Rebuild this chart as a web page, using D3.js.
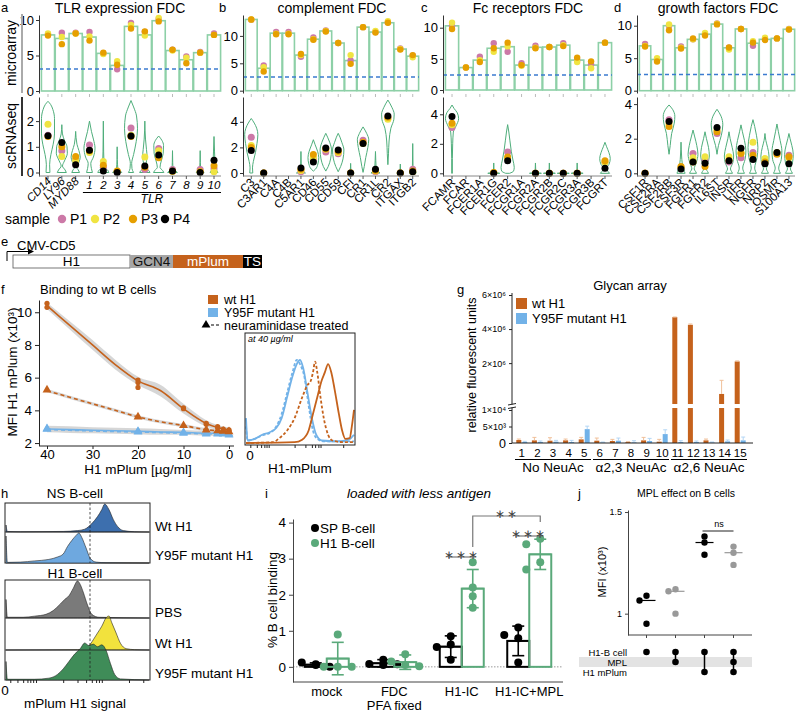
<!DOCTYPE html>
<html><head><meta charset="utf-8">
<script src="https://cdn.jsdelivr.net/npm/d3@7/dist/d3.min.js"></script>
<style>html,body{margin:0;padding:0;background:#fff;}</style>
</head><body>
<svg id="fig" width="797" height="713" xmlns="http://www.w3.org/2000/svg"></svg>
<script>
// ======================= DATA =======================
const samples = ["P1","P2","P3","P4"];

// ---- panel a : TLR expression FDC
const genesA = ["CD14","LY96","MYD88","1","2","3","4","5","6","7","8","9","10"];
const microA = [7.9,7.4,8.1,7.6,5.3,3.6,9.1,7.9,9.9,5.7,4.4,5.4,7.9];
const microPtsA = [[8.0,8.1,7.8],[8.2,7.6,6.6],[8.2,8.1,8.1],[8.3,7.7,7.1],[5.3,5.2,5.4],[3.05,4.2,3.7],[9.6,9.3,8.8],[8.3,7.8,8.4],[10.1,10.3,9.8],[5.8,5.7,5.8],[4.85,4.7,3.9],[5.5,5.4,5.4],[8.1,7.9,7.9]];
const scPtsA = [[1.45,1.88,1.4,1.43],[0.85,0.62,1.0,1.17],[0.5,0.47,0.62,0.3],[1.07,0.78,0.85,0.87],[0.2,0.43,0.28,0.06],[0.03,0.05,0.06,0.0],[1.73,1.45,1.4,1.42],[0.12,0.6,0.2,0.25],[0.93,0.85,0.57,0.68],[0.12,0.05,0.05,0.06],null,[0.12,0.03,0.03,0.0],[0.15,0.03,0.26,0.48]];
const violinA = [
 [[0,0.3],[0.3,0.25],[0.7,0.45],[1.1,0.8],[1.5,1],[2.1,1],[2.45,0.75],[2.65,0.4],[2.77,0]],
 [[0,0.7],[0.1,0.5],[0.25,0.1],[0.45,0.4],[0.75,0.85],[1.0,0.8],[1.25,0.4],[1.5,0.1],[1.86,0]],
 [[0,0.6],[0.1,0.4],[0.22,0.1],[0.4,0.5],[0.6,0.7],[0.85,0.5],[1.1,0.2],[1.6,0]],
 [[0,0.45],[0.15,0.3],[0.35,0.2],[0.6,0.6],[0.95,0.85],[1.3,0.6],[1.6,0.3],[2.0,0]],
 [[0,0.85],[0.08,0.7],[0.2,0.25],[0.4,0.1],[0.8,0.05],[2.0,0]],
 [[0,0.7],[0.06,0.5],[0.15,0.1],[0.5,0.03],[1.0,0]],
 [[0,0.4],[0.15,0.15],[0.35,0.1],[0.7,0.4],[1.2,0.8],[1.7,1],[2.2,0.85],[2.55,0.4],[2.8,0]],
 [[0,0.8],[0.08,0.6],[0.18,0.2],[0.35,0.2],[0.6,0.35],[0.9,0.25],[1.3,0.1],[2.0,0]],
 [[0,0.8],[0.08,0.6],[0.2,0.2],[0.45,0.4],[0.75,0.7],[1.05,0.75],[1.25,0.5],[1.42,0]],
 [[0,0.75],[0.06,0.5],[0.15,0.1],[0.4,0.03],[0.85,0]],
 null,
 [[0,0.6],[0.06,0.4],[0.15,0.08],[0.4,0.03],[0.85,0]],
 [[0,0.6],[0.06,0.45],[0.15,0.25],[0.4,0.15],[0.8,0.08],[1.4,0]]
];
const thrA = 3.1;

// ---- panel b : complement FDC
const genesB = ["C3","C3AR1","C4A","C4B","C5AR1","CD46","CD55","CD59","CFI","CR1","CR1L","CR2","ITGAX","ITGB2"];
const microB = [13.0,4.1,10.5,10.5,6.5,9.4,10.9,8.7,5.5,11.6,10.7,12.4,7.6,6.3];
const microPtsB = [[12.95,13.0,13.0],[4.6,4.3,3.5],[10.7,10.4,10.3],[10.7,10.4,10.3],[6.2,6.5,6.7],[9.7,9.4,9.3],[11.0,10.9,10.8],[8.7,8.7,8.7],[5.5,6.5,4.9],[11.6,11.6,11.6],[10.7,10.9,10.6],[12.5,12.7,12.4],[7.7,7.6,7.5],[6.4,6.1,6.5]];
const scPtsB = [[2.8,2.15,2.0,1.75],[0,0,0,0],null,null,[0.1,0.2,0.3,0.4],[1.05,1.2,1.45,0.85],[1.65,1.85,1.9,1.95],[1.5,1.6,1.7,1.8],[0,0,0,0],[2.55,2.3,2.4,2.3],[0.1,0.15,0.2,0.3],[4.3,4.2,4.35,4.45],[0,0,0,0],[0.3,0.1,0.15,0.1]];
const violinB = [
 [[0,0.25],[0.4,0.2],[0.9,0.35],[1.6,0.7],[2.3,0.95],[3.0,1.1],[3.5,0.9],[3.9,0.5],[4.26,0]],
 null, null, null,
 [[0,0.75],[0.07,0.55],[0.18,0.1],[0.5,0.05],[1.68,0]],
 [[0.15,0],[0.3,0.35],[0.7,0.75],[1.2,0.9],[1.7,0.7],[2.2,0.3],[2.6,0]],
 [[0.15,0],[0.5,0.4],[1.1,0.8],[1.8,0.95],[2.4,0.65],[2.8,0.3],[3.1,0]],
 [[0.1,0],[0.5,0.4],[1.1,0.8],[1.8,0.95],[2.4,0.6],[2.8,0.3],[3.1,0]],
 [[0,0.6],[0.06,0.4],[0.15,0.05],[0.75,0]],
 [[0.05,0],[0.5,0.2],[1.2,0.45],[2.0,0.8],[2.6,0.95],[3.1,0.6],[3.6,0]],
 [[0,0.75],[0.07,0.55],[0.18,0.15],[0.5,0.1],[1.0,0.05],[1.68,0]],
 [[0.65,0],[1.5,0.1],[2.5,0.2],[3.5,0.5],[4.2,1.0],[4.6,1.05],[5.1,0.7],[5.7,0]],
 [[0,0.6],[0.06,0.4],[0.15,0.05],[0.7,0]],
 [[0,0.6],[0.08,0.45],[0.2,0.1],[0.6,0.05],[2.3,0]]
];
const thrB = 2.5;

// ---- panel c : Fc receptors FDC
const genesC = ["FCAMR","FCAR","FCER1A","FCER1G","FCER2","FCGR1A","FCGR2A","FCGR2B","FCGR2C","FCGR3A","FCGR3B","FCGRT"];
const microC = [10.3,3.6,4.8,6.7,6.95,4.0,6.85,6.9,7.2,4.8,4.0,7.6];
const microPtsC = [[10.3,10.8,9.8],[3.6,3.6,3.6],[5.35,4.8,4.5],[7.5,6.15,6.7],[6.15,7.0,7.6],[4.3,3.9,4.0],[7.1,6.8,6.7],[6.9,6.9,6.9],[7.5,7.2,7.05],[4.8,4.5,5.2],[4.1,3.5,4.6],[7.6,7.6,7.6]];
const scPtsC = [[3.1,3.3,3.4,3.85],null,null,[0.03,0.05,0.05,0],[1.45,1.0,1.1,0.85],null,[0,0,0,0],[0,0,0,0],[0,0,0,0],[0,0,0,0],null,[0.75,0.75,0.85,0.35]];
const violinC = [
 [[0,0.05],[1.0,0.05],[2.0,0.1],[2.8,0.2],[3.2,0.6],[3.7,1.0],[4.1,0.8],[4.4,0.3],[4.63,0]],
 null, null,
 [[0,0.9],[0.04,0.4],[0.1,0.05],[0.7,0]],
 [[0,0.3],[0.15,0.9],[0.4,1.0],[0.9,0.8],[1.5,0.55],[2.2,0.35],[2.8,0.18],[3.3,0]],
 null,
 [[0,0.9],[0.04,0.4],[0.1,0.05],[0.7,0]],
 [[0,0.9],[0.04,0.4],[0.1,0.05],[0.7,0]],
 [[0,0.9],[0.01,0]],
 [[0,0.9],[0.04,0.4],[0.1,0.05],[0.7,0]],
 null,
 [[0,0.7],[0.1,0.5],[0.3,0.2],[0.6,0.6],[1.0,0.8],[1.4,0.6],[1.8,0.25],[2.1,0]]
];
const thrC = 2.4;

// ---- panel d : growth factors FDC
const genesD = ["CSF1R","CSF2RA","CSF2RB","CSF3R","FGFR1","FGFR2","IL6ST","INSR","LIFR","NGFR","NRP2","OSMR","S100A13"];
const microD = [6.9,4.8,10.0,6.6,7.9,8.7,10.25,6.6,9.5,7.3,7.9,8.05,9.45];
const microPtsD = [[7.2,6.9,6.8],[4.8,5.0,4.5],[10.0,10.2,9.3],[6.8,6.6,6.5],[7.9,7.9,8.05],[8.7,8.9,8.5],[10.35,10.3,10.2],[6.6,6.35,6.65],[9.5,9.5,9.5],[6.9,7.6,7.4],[7.9,8.15,7.8],[8.05,8.05,8.05],[9.5,9.45,9.4]];
const scPtsD = [[0,0,0,0],null,[3.1,2.9,2.7,3.0],[0.3,0.35,0.4,0.25],[1.15,0.9,0.65,0.65],[0.75,0.95,0.4,0.58],[2.3,2.5,2.4,2.65],[0.65,0.95,0.75,0.72],[0.9,1.2,1.15,1.45],[1.2,1.8,1.05,0.8],[0.6,0.85,0.65,0.55],[1.15,1.2,1.1,1.2],[1.05,0.9,0.95,0.55]];
const violinD = [
 null, null,
 [[1.1,0],[1.6,0.2],[2.3,0.45],[2.9,0.9],[3.3,1.0],[3.7,0.6],[3.95,0]],
 [[0,0.7],[0.1,0.6],[0.3,0.4],[0.6,0.2],[1.0,0.1],[1.8,0]],
 [[0,0.6],[0.1,0.45],[0.25,0.2],[0.6,0.55],[1.1,0.85],[1.6,0.65],[2.1,0.3],[2.5,0]],
 [[0,0.6],[0.1,0.45],[0.25,0.2],[0.6,0.5],[1.0,0.75],[1.5,0.6],[2.0,0.25],[2.4,0]],
 [[1.1,0],[1.6,0.25],[2.2,0.75],[2.8,1.0],[3.3,0.7],[3.7,0]],
 [[0,0.6],[0.1,0.45],[0.25,0.25],[0.6,0.65],[1.0,0.8],[1.5,0.55],[2.0,0.2],[2.4,0]],
 [[0,0.6],[0.1,0.45],[0.3,0.3],[0.8,0.7],[1.3,0.85],[1.9,0.6],[2.4,0.25],[2.8,0]],
 [[0,0.6],[0.1,0.45],[0.3,0.3],[0.9,0.7],[1.5,0.85],[2.2,0.6],[2.7,0.3],[3.1,0]],
 [[0,0.6],[0.1,0.45],[0.25,0.25],[0.6,0.6],[1.0,0.7],[1.5,0.45],[1.9,0.15],[2.3,0]],
 [[0,0.6],[0.1,0.45],[0.3,0.3],[0.8,0.75],[1.3,0.85],[1.9,0.55],[2.4,0.25],[2.85,0]],
 [[0,0.6],[0.1,0.45],[0.25,0.25],[0.6,0.6],[1.1,0.75],[1.6,0.5],[2.0,0.2],[2.3,0]]
];
const thrD = 2.5;

// ---- panel e : construct
const constructParts = ["H1","GCN4","mPlum","TS"];
const constructSizes = [117,43,70,19];

// ---- panel f : binding curve
const concF = [40,20,10,5,2.5,1.25,0];
const wtPts = [[10.55,10.3],[5.85,5.7,5.4],[4.1,4.15],[3.2,3.15],[3.0,2.95],[2.85],[2.8,2.75]];
const wtNeuPts = [[5.25],[3.6],[3.07],[2.8],[2.75],[2.72],[2.7]];
const mutPts = [[2.88],[2.72],[2.65],[2.6],[2.6],[2.6],[2.55]];
const mutNeuPts = [[2.85],[2.68],[2.6],[2.56],[2.55],[2.55],[2.5]];
const fitX = [40,35,30,25,20,15,10,5,2.5,0];
const wtFit = [10.4,9.2,8.0,6.8,5.8,5.2,4.1,3.2,2.95,2.8];
const wtBand = [0.2,0.25,0.3,0.3,0.25,0.35,0.3,0.2,0.15,0.15];
const wtNeuFit = [5.2,4.8,4.4,4.0,3.6,3.3,3.07,2.82,2.75,2.7];
const wtNeuBand = [0.1,0.1,0.1,0.1,0.1,0.1,0.1,0.1,0.1,0.1];
const mutFit = [2.86,2.82,2.78,2.75,2.72,2.68,2.65,2.6,2.6,2.55];
const mutBand = [0.2,0.2,0.18,0.18,0.18,0.18,0.15,0.15,0.15,0.15];
const mutNeuFit = [2.83,2.78,2.74,2.7,2.67,2.64,2.6,2.56,2.55,2.5];
const fLegend = ["wt H1","Y95F mutant H1","neuraminidase treated"];
// inset histograms at 40 µg/ml  [channel, relative count]
const histMutSolid = [[0,0.3],[1.5,0.03],[8,0.05],[15,0.1],[22,0.13],[28,0.18],[33,0.3],[38,0.55],[43,0.8],[47,0.95],[50,1.0],[53,0.9],[57,0.6],[61,0.3],[65,0.1],[70,0.03],[85,0.02],[95,0.04],[100,0.1]];
const histMutNeu = [[0,0.2],[1.5,0.03],[8,0.05],[15,0.09],[22,0.12],[28,0.2],[33,0.35],[38,0.6],[43,0.85],[47,1.0],[50,0.95],[54,0.8],[58,0.45],[62,0.15],[66,0.05],[72,0.02],[100,0.02]];
const histWtNeu = [[0,0],[25,0.01],[30,0.05],[38,0.15],[45,0.3],[52,0.55],[57,0.7],[60,0.75],[62,0.85],[64,0.98],[66,0.85],[69,0.55],[72,0.3],[76,0.1],[80,0.03],[90,0.01],[100,0.01]];
const histWtSolid = [[0,0],[45,0.01],[52,0.04],[58,0.15],[62,0.35],[66,0.55],[70,0.75],[73,0.85],[76,0.95],[79,0.85],[82,0.65],[86,0.35],[89,0.15],[92,0.05],[96,0.06],[98,0.2],[100,0.4]];
const insetTicks = [4,10,14,17,19,21,45,55,61,64,67,69,90];

// ---- panel g : glycan array
const glycanIds = [1,2,3,4,5,6,7,8,9,10,11,12,13,14,15];
const glycanGroups = ["No NeuAc","α2,3 NeuAc","α2,6 NeuAc"];
const wtGly = [900,800,700,800,1100,700,600,300,800,400,4.7e6,4.25e6,800,1.9e5,2.1e6];
const wtGlyErr = [300,900,900,400,600,800,500,100,900,700,1e4,5e4,400,8e5,3e4];
const mutGly = [300,300,400,300,4200,200,700,200,600,2700,300,300,200,500,800];
const mutGlyErr = [200,300,400,500,900,100,800,500,800,1300,400,300,100,400,1000];
const gLegend = ["wt H1","Y95F mutant H1"];

// ---- panel h : histograms [channel, relative count]
const hNSwt = [[0,0.25],[1,0.02],[10,0.01],[40,0.02],[50,0.05],[55,0.1],[60,0.3],[64,0.55],[67,0.8],[69,1.0],[72,0.8],[75,0.45],[78,0.2],[82,0.05],[90,0.01],[100,0]];
const hNSmut = [[0,0.9],[1,0.02],[10,0.03],[20,0.07],[30,0.12],[36,0.2],[40,0.3],[43,0.55],[46,0.75],[49,0.92],[51,1.0],[53,0.85],[56,0.5],[59,0.15],[63,0.03],[70,0.01],[100,0]];
const hPBS = [[0,0.5],[1,0.02],[12,0.02],[20,0.05],[28,0.1],[33,0.2],[38,0.38],[41,0.5],[44,0.6],[47,0.8],[50,1.0],[52,0.9],[54,0.7],[57,0.35],[60,0.1],[65,0.02],[100,0]];
const hWt = [[0,0],[50,0.01],[55,0.04],[58,0.12],[61,0.3],[64,0.5],[67,0.7],[70,0.95],[72,1.0],[74,0.8],[77,0.5],[80,0.2],[84,0.04],[90,0.01],[100,0]];
const hMut = [[0,0.5],[1,0.02],[20,0.02],[30,0.05],[36,0.15],[40,0.3],[44,0.5],[48,0.7],[52,0.85],[55,1.0],[58,0.93],[61,0.97],[64,0.9],[67,0.95],[70,0.8],[73,0.45],[76,0.15],[80,0.03],[100,0]];
const hLabelsNS = ["Wt H1","Y95F mutant H1"];
const hLabelsH1 = ["PBS","Wt H1","Y95F mutant H1"];
const hTicks = [3,8,12,15,17,19,21,40,50,56,60,63,65,67,86,96];

// ---- panel i
const iGroups = ["mock","FDC","H1-IC","H1-IC+MPL"];
const iSeries = ["SP B-cell","H1 B-cell"];
const spPts = [[0.05,0.12,0.0,0.07],[0.2,0.08,0.07,0.05],[0.85,0.62,0.55,0.2],[1.09,0.88,0.79,0.12]];
const h1Pts = [[0.9,0.0,0.0,0.0],[0.35,0.15,0.05,0.02],[2.9,2.2,1.96,1.64],[3.55,3.4,2.9,2.7]];
const spMean = [0.06,0.1,0.56,0.72], spSd = [0.05,0.1,0.3,0.41];
const h1Mean = [0.23,0.13,2.17,3.12], h1Sd = [0.45,0.2,0.53,0.42];
const iTicks = [0,1,2,3,4];

// ---- panel j
const jVals = [[1.088,1.065,0.95],[1.12,1.11,1.0],[1.38,1.35,1.29],[1.33,1.30,1.24]];
const jMed = [1.065,1.11,1.35,1.30];
const jRows = ["H1-B cell","MPL","H1 mPlum"];
const jMatrix = [[1,0,0],[1,1,0],[1,0,1],[1,1,1]];

// ======================= DRAWING =======================
const FONT = '"Liberation Sans", Arial, Helvetica, sans-serif';
const svg = d3.select("#fig").attr("font-family", FONT);
const sampleColors = ["#cc79a7","#f0e442","#e69f00","#000000"];
const BAR_GREEN = "#8dd0a7", VIO_GREEN = "#4fae7b", THR_BLUE = "#3b7bd0";
const ORANGE = "#c5621c", LBLUE = "#72b2e8";
const fmtInt = d3.format("d");

function T(x, y, s, o = {}) {
  const t = svg.append("text").attr("x", x).attr("y", y).text(s)
    .attr("font-size", o.size || 13).attr("fill", o.fill || "#000")
    .attr("text-anchor", o.anchor || "start");
  if (o.italic) t.attr("font-style", "italic");
  if (o.rot != null) t.attr("transform", `rotate(${o.rot},${x},${y})`);
  if (o.ls) t.attr("letter-spacing", o.ls);
  return t;
}
function styleAxis(sel, size, col = "#222") {
  sel.attr("font-family", FONT).attr("font-size", size);
  sel.selectAll("text").attr("fill", "#000");
  sel.selectAll("line").attr("stroke", col);
  sel.selectAll("path").attr("stroke", col);
}
function L(x1, y1, x2, y2, col = "#222", w = 1, dash = null) {
  const l = svg.append("line").attr("x1", x1).attr("y1", y1).attr("x2", x2).attr("y2", y2)
    .attr("stroke", col).attr("stroke-width", w);
  if (dash) l.attr("stroke-dasharray", dash);
  return l;
}

// ---------- panels a-d ----------
function drawFDC(c) {
  const x = d3.scaleBand().domain(c.genes).range([c.x0, c.x1]).paddingInner(0.05).paddingOuter(0.03);
  const cx = g => x(g) + x.bandwidth() / 2;
  const ym = d3.scaleLinear().domain([-(93 - c.mZero) / c.mPpu, (c.mZero - 15) / c.mPpu]).range([93, 15]);
  const ys = d3.scaleLinear().domain([-(176 - c.sZero) / c.sPpu, (c.sZero - 97) / c.sPpu]).range([176, 97]);
  svg.append("g").selectAll("rect").data(c.genes).join("rect")
    .attr("x", d => x(d)).attr("width", x.bandwidth())
    .attr("y", (d, i) => ym(c.micro[i])).attr("height", (d, i) => ym(0) - ym(c.micro[i]))
    .attr("fill", "#fff").attr("stroke", BAR_GREEN).attr("stroke-width", 1.6);
  L(c.axisX, ym(c.thr), c.x1, ym(c.thr), THR_BLUE, 1.6, "4,3");
  const mp = [];
  c.microPts.forEach((p, i) => p && p.forEach((v, j) => mp.push({ g: c.genes[i], v, j })));
  svg.append("g").selectAll("circle").data(mp).join("circle")
    .attr("cx", d => cx(d.g)).attr("cy", d => ym(d.v)).attr("r", 3.2).attr("fill", d => sampleColors[d.j]);
  const axM = svg.append("g").attr("transform", `translate(${c.axisX},0)`)
    .call(d3.axisLeft(ym).tickValues([0, 5, 10]).tickFormat(fmtInt).tickSize(3).tickSizeOuter(0).tickPadding(2));
  styleAxis(axM, 13, "#333");
  const axMx = svg.append("g").attr("transform", "translate(0,94)")
    .call(d3.axisBottom(x).tickSize(3).tickFormat(""));
  axMx.select(".domain").remove();
  axMx.selectAll("line").attr("stroke", "#bbb");
  c.violins.forEach((kn, i) => {
    if (!kn) return;
    const xc = cx(c.genes[i]);
    const area = d3.area().y(d => ys(d[0])).x0(d => xc - d[1] * c.vW).x1(d => xc + d[1] * c.vW).curve(d3.curveMonotoneY);
    svg.append("path").attr("d", area(kn)).attr("fill", "none").attr("stroke", VIO_GREEN).attr("stroke-width", 1);
  });
  const sp = [];
  c.scPts.forEach((p, i) => p && p.forEach((v, j) => sp.push({ g: c.genes[i], v, j })));
  svg.append("g").selectAll("circle").data(sp).join("circle")
    .attr("cx", d => cx(d.g)).attr("cy", d => ys(d.v)).attr("r", 3.5).attr("fill", d => sampleColors[d.j]);
  const axS = svg.append("g").attr("transform", `translate(${c.axisX},0)`)
    .call(d3.axisLeft(ys).tickValues(c.sTicks).tickFormat(fmtInt).tickSize(3).tickSizeOuter(0).tickPadding(2));
  styleAxis(axS, 13, "#333");
  L(c.axisX, 176, c.x1, 176, "#888", 1);
  const axSx = svg.append("g").attr("transform", "translate(0,176)")
    .call(d3.axisBottom(x).tickSize(3).tickFormat(""));
  axSx.select(".domain").remove();
  axSx.selectAll("line").attr("stroke", "#555");
  T(c.titleX, 13, c.title, { size: 14, anchor: "middle" });
  T(c.letterX, 12, c.letter, { size: 13 });
  return { x, cx };
}

const pa = drawFDC({ genes: genesA, micro: microA, microPts: microPtsA, scPts: scPtsA, violins: violinA, thr: thrA,
  x0: 41, x1: 221, axisX: 39, mZero: 91, mPpu: 7.1, sZero: 172.5, sPpu: 25.7, vW: 6.5, sTicks: [0, 1, 2],
  title: "TLR expression FDC", titleX: 120, letter: "a", letterX: 1 });
const pb = drawFDC({ genes: genesB, micro: microB, microPts: microPtsB, scPts: scPtsB, violins: violinB, thr: thrB,
  x0: 245, x1: 419, axisX: 243, mZero: 90.7, mPpu: 5.48, sZero: 173, sPpu: 12.8, vW: 6.0, sTicks: [0, 2, 4],
  title: "complement FDC", titleX: 332, letter: "b", letterX: 219 });
const pc = drawFDC({ genes: genesC, micro: microC, microPts: microPtsC, scPts: scPtsC, violins: violinC, thr: thrC,
  x0: 445, x1: 612, axisX: 443, mZero: 90, mPpu: 6.23, sZero: 173.3, sPpu: 14.75, vW: 6.6, sTicks: [0, 2, 4],
  title: "Fc receptors FDC", titleX: 528, letter: "c", letterX: 421 });
const pd = drawFDC({ genes: genesD, micro: microD, microPts: microPtsD, scPts: scPtsD, violins: violinD, thr: thrD,
  x0: 639, x1: 795, axisX: 637, mZero: 90.7, mPpu: 6.5, sZero: 173.3, sPpu: 17.3, vW: 5.8, sTicks: [0, 2, 4],
  title: "growth factors FDC", titleX: 718, letter: "d", letterX: 614 });

L(22, 14, 22, 93, "#aaa", 2);
L(22, 97, 22, 176, "#333", 2);
T(16, 53, "microarray", { size: 14, anchor: "middle", rot: -90 });
T(16, 136, "scRNAseq", { size: 14, anchor: "middle", rot: -90 });

genesA.forEach((g, i) => {
  const xc = pa.cx(g);
  if (i < 3) T(xc + 4, 182, g, { size: 11.5, anchor: "end", rot: -45, italic: true });
  else T(xc, 189, g, { size: 11.5, anchor: "middle", italic: true });
});
L(pa.x(genesA[3]), 192.5, 221, 192.5, "#000", 1);
T((pa.x(genesA[3]) + 221) / 2, 203, "TLR", { size: 12, anchor: "middle", italic: true });
[[pb, genesB], [pc, genesC], [pd, genesD]].forEach(([p, gs]) => {
  gs.forEach(g => T(p.cx(g) + 4, 183, g, { size: 11.5, anchor: "end", rot: -45 }));
});

T(5, 224, "sample", { size: 14 });
const legX = [62, 95, 133, 165];
samples.forEach((s, i) => {
  svg.append("circle").attr("cx", legX[i]).attr("cy", 219).attr("r", 4.2).attr("fill", sampleColors[i]);
  T(legX[i] + 8, 224, s, { size: 14 });
});

// ---------- panel e ----------
T(1, 246, "e", { size: 13 });
T(17, 250, "CMV-CD5", { size: 13 });
L(7, 261, 7, 251.5, "#000", 1);
L(7, 251.5, 30, 251.5, "#000", 1);
svg.append("path").attr("d", "M34,251.5 L28,248.5 L28,254.5 Z").attr("fill", "#000");
const eScale = d3.scaleLinear().domain([0, d3.sum(constructSizes)]).range([13, 262]);
const partFill = ["#ffffff", "#a6a6a6", "#c5621c", "#000000"];
const partText = ["#000", "#111", "#fff", "#fff"];
let cum = 0;
constructParts.forEach((p, i) => {
  const a = eScale(cum), b = eScale(cum + constructSizes[i]);
  svg.append("rect").attr("x", a).attr("y", 255).attr("width", b - a).attr("height", 13)
    .attr("fill", partFill[i]).attr("stroke", i === 0 ? "#555" : "none").attr("stroke-width", 0.8);
  T((a + b) / 2, 266, p, { size: 13.5, anchor: "middle", fill: partText[i] });
  cum += constructSizes[i];
});

// ---------- panel f ----------
T(1, 294, "f", { size: 13 });
T(40, 294, "Binding to wt B cells", { size: 13 });
const fx = d3.scaleLinear().domain([40, 0]).range([47, 229]);
const fy = d3.scaleLinear().domain([1.85, 10.75]).range([445.5, 300]);
function fBand(fit, w) {
  return d3.area().x((d, i) => fx(fitX[i])).y0((d, i) => fy(fit[i] - w[i])).y1((d, i) => fy(fit[i] + w[i])).curve(d3.curveMonotoneX)(fit);
}
function fLine(fit) { return d3.line().x((d, i) => fx(fitX[i])).y(d => fy(d)).curve(d3.curveMonotoneX)(fit); }
svg.append("path").attr("d", fBand(mutFit, mutBand)).attr("fill", "#cfcfcf").attr("opacity", 0.85);
svg.append("path").attr("d", fBand(wtNeuFit, wtNeuBand)).attr("fill", "#cfcfcf").attr("opacity", 0.85);
svg.append("path").attr("d", fBand(wtFit, wtBand)).attr("fill", "#cfcfcf").attr("opacity", 0.85);
svg.append("path").attr("d", fLine(mutNeuFit)).attr("fill", "none").attr("stroke", LBLUE).attr("stroke-width", 1.6).attr("stroke-dasharray", "4,3");
svg.append("path").attr("d", fLine(mutFit)).attr("fill", "none").attr("stroke", LBLUE).attr("stroke-width", 1.6);
svg.append("path").attr("d", fLine(wtNeuFit)).attr("fill", "none").attr("stroke", ORANGE).attr("stroke-width", 1.6).attr("stroke-dasharray", "4,3");
svg.append("path").attr("d", fLine(wtFit)).attr("fill", "none").attr("stroke", ORANGE).attr("stroke-width", 1.6);
const tri = d3.symbol().type(d3.symbolTriangle).size(34);
function fPoints(pts, col, triangle) {
  const arr = [];
  pts.forEach((vs, i) => vs.forEach(v => arr.push([concF[i], v])));
  if (triangle) {
    svg.append("g").selectAll("path").data(arr).join("path").attr("d", tri)
      .attr("transform", d => `translate(${fx(d[0])},${fy(d[1])})`).attr("fill", col);
  } else {
    svg.append("g").selectAll("circle").data(arr).join("circle")
      .attr("cx", d => fx(d[0])).attr("cy", d => fy(d[1])).attr("r", 2.6).attr("fill", col);
  }
}
fPoints(mutPts, LBLUE, true);
fPoints(mutNeuPts, LBLUE, true);
fPoints(wtNeuPts, ORANGE, true);
fPoints(wtPts, ORANGE, false);
const fAxY = svg.append("g").attr("transform", "translate(39,0)")
  .call(d3.axisLeft(fy).tickValues([2, 4, 6, 8, 10]).tickFormat(fmtInt).tickSize(4).tickSizeOuter(0));
styleAxis(fAxY, 13.5);
const fAxX = svg.append("g").attr("transform", "translate(0,446)")
  .call(d3.axisBottom(fx).tickValues([40, 30, 20, 10, 0]).tickFormat(fmtInt).tickSize(3).tickPadding(1).tickSizeOuter(0));
fAxX.select(".domain").remove();
styleAxis(fAxX, 13);
L(39, 446, 234, 446, "#222", 1);
T(138, 474, "H1 mPlum [µg/ml]", { size: 13.5, anchor: "middle" });
T(17, 372, "MFI H1 mPlum (x10³)", { size: 13.5, anchor: "middle", rot: -90 });
svg.append("rect").attr("x", 208).attr("y", 295).attr("width", 10).attr("height", 9).attr("fill", ORANGE);
svg.append("rect").attr("x", 208).attr("y", 308).attr("width", 10).attr("height", 9).attr("fill", LBLUE);
svg.append("path").attr("d", tri).attr("transform", "translate(206,325)").attr("fill", "#000");
L(211, 325, 221, 325, "#000", 1.2, "3,2");
T(224, 304, fLegend[0], { size: 12.5 });
T(224, 317, fLegend[1], { size: 12.5 });
T(224, 330, fLegend[2], { size: 12.5 });
const hx = d3.scaleLinear().domain([0, 100]).range([246, 354]);
const hy = d3.scaleLinear().domain([0, 1]).range([443, 360]);
const hLine = d3.line().x(d => hx(d[0])).y(d => hy(d[1])).curve(d3.curveMonotoneX);
svg.append("path").attr("d", hLine(histMutNeu)).attr("fill", "none").attr("stroke", LBLUE).attr("stroke-width", 1.8).attr("stroke-dasharray", "3,2");
svg.append("path").attr("d", hLine(histMutSolid)).attr("fill", "none").attr("stroke", LBLUE).attr("stroke-width", 1.8);
svg.append("path").attr("d", hLine(histWtNeu)).attr("fill", "none").attr("stroke", ORANGE).attr("stroke-width", 1.8).attr("stroke-dasharray", "3,2");
svg.append("path").attr("d", hLine(histWtSolid)).attr("fill", "none").attr("stroke", ORANGE).attr("stroke-width", 1.8);
svg.append("rect").attr("x", 245).attr("y", 333).attr("width", 110).attr("height", 112).attr("fill", "none").attr("stroke", "#222").attr("stroke-width", 1);
const inAx = svg.append("g").attr("transform", "translate(0,445)")
  .call(d3.axisBottom(hx).tickValues(insetTicks).tickSize(3).tickFormat(""));
inAx.select(".domain").remove();
styleAxis(inAx, 10);
T(248, 342, "at 40 µg/ml", { size: 9, italic: true });
T(250, 460, "0", { size: 13.5, anchor: "middle" });
T(300, 473, "H1-mPlum", { size: 13.5, anchor: "middle" });

// ---------- panel g ----------
T(457, 294, "g", { size: 13 });
T(630, 290, "Glycan array", { size: 13, anchor: "middle" });
const gx = d3.scaleBand().domain(glycanIds).range([514, 748]);
const gyL = d3.scaleLinear().domain([0, 1e4]).range([443, 410]);
const gyU = d3.scaleLinear().domain([-4e5, 6e6]).range([404, 295]);
const LOWTOP = 1.06e4;
function gBar(xp, v, err, col, ecol) {
  if (v <= LOWTOP) {
    svg.append("rect").attr("x", xp).attr("y", gyL(v)).attr("width", 5).attr("height", 443 - gyL(v)).attr("fill", col);
    const top = gyL(Math.min(v + err, LOWTOP));
    L(xp + 2.5, gyL(v), xp + 2.5, top, ecol, 1);
    L(xp + 0.5, top, xp + 4.5, top, ecol, 1);
  } else {
    svg.append("rect").attr("x", xp).attr("y", gyL(LOWTOP)).attr("width", 5).attr("height", 443 - gyL(LOWTOP)).attr("fill", col);
    svg.append("rect").attr("x", xp).attr("y", gyU(v)).attr("width", 5).attr("height", 404 - gyU(v)).attr("fill", col);
    const top = gyU(v + err);
    L(xp + 2.5, gyU(v), xp + 2.5, top, ecol, 1);
    L(xp + 0.5, top, xp + 4.5, top, ecol, 1);
  }
}
glycanIds.forEach((id, i) => {
  const c = gx(id) + gx.bandwidth() / 2;
  gBar(c - 5.5, wtGly[i], wtGlyErr[i], ORANGE, "#f0c09a");
  gBar(c + 0.5, mutGly[i], mutGlyErr[i], LBLUE, "#b3d6f5");
});
const gAxL = svg.append("g").attr("transform", "translate(512,0)")
  .call(d3.axisLeft(gyL).tickValues([0, 5000, 10000]).tickSize(3)
    .tickFormat(d => d === 0 ? "0" : (d === 5000 ? "5×10³" : "1×10⁴")));
gAxL.select(".domain").remove();
styleAxis(gAxL, 9);
gAxL.selectAll("text").filter(d => d === 0).attr("font-size", 12.5);
const gAxU = svg.append("g").attr("transform", "translate(512,0)")
  .call(d3.axisLeft(gyU).tickValues([2e6, 4e6, 6e6]).tickSize(3)
    .tickFormat(d => (d / 1e6) + "×10⁶"));
gAxU.select(".domain").remove();
styleAxis(gAxU, 9);
L(512, 443, 512, 407.5, "#222", 1);
L(512, 404.5, 512, 293, "#222", 1);
L(508, 405, 516, 403.5, "#222", 1);
L(508, 408.5, 516, 407, "#222", 1);
L(512, 443, 753, 443, "#222", 1);
glycanIds.forEach(id => T(gx(id) + gx.bandwidth() / 2, 457, String(id), { size: 11.5, anchor: "middle" }));
glycanGroups.forEach((g, k) => {
  const a = gx(glycanIds[k * 5]) + 1, b = gx(glycanIds[k * 5 + 4]) + gx.bandwidth() - 1;
  L(a, 459.5, b, 459.5, "#000", 1);
  T((a + b) / 2, 472, g, { size: 13.5, anchor: "middle" });
});
T(476, 365, "relative fluorescent units", { size: 12.5, anchor: "middle", rot: -90 });
svg.append("rect").attr("x", 516).attr("y", 298).attr("width", 11).attr("height", 11).attr("fill", ORANGE);
svg.append("rect").attr("x", 516).attr("y", 313).attr("width", 11).attr("height", 11).attr("fill", LBLUE);
T(532, 308, gLegend[0], { size: 13 });
T(532, 323, gLegend[1], { size: 13 });

// ---------- panel h ----------
T(1, 498, "h", { size: 13 });
T(75, 498, "NS B-cell", { size: 13.5, anchor: "middle" });
T(75, 578, "H1 B-cell", { size: 13.5, anchor: "middle" });
const hhx = d3.scaleLinear().domain([0, 100]).range([6, 149]);
function hHist(data, bottom, hpx, col) {
  const a = d3.area().x(d => hhx(d[0])).y0(bottom).y1(d => bottom - d[1] * hpx).curve(d3.curveMonotoneX);
  svg.append("path").attr("d", a(data)).attr("fill", col).attr("stroke", "#222").attr("stroke-width", 0.6);
}
svg.append("rect").attr("x", 5).attr("y", 503).attr("width", 145).attr("height", 60).attr("fill", "none").attr("stroke", "#222").attr("stroke-width", 1);
svg.append("rect").attr("x", 5).attr("y", 580).attr("width", 145).attr("height", 100).attr("fill", "none").attr("stroke", "#222").attr("stroke-width", 1);
hHist(hNSwt, 532, 28, "#3d6fae");
hHist(hNSmut, 563, 30, "#6ea8df");
hHist(hPBS, 618, 37, "#7a7a7a");
hHist(hWt, 650, 34, "#f2e23d");
hHist(hMut, 680, 37, "#3f8c58");
L(5, 532, 150, 532, "#222", 0.8);
L(5, 618, 150, 618, "#222", 0.8);
L(5, 650, 150, 650, "#222", 0.8);
L(90, 503, 90, 563, "#222", 0.8, "2.5,2");
L(90, 580, 90, 680, "#222", 0.8, "2.5,2");
const hAx = svg.append("g").attr("transform", "translate(0,680)")
  .call(d3.axisBottom(hhx).tickValues(hTicks).tickSize(3).tickFormat(""));
hAx.select(".domain").remove();
styleAxis(hAx, 10);
T(155, 531, hLabelsNS[0], { size: 13.5 });
T(155, 560, hLabelsNS[1], { size: 13.5 });
T(155, 617, hLabelsH1[0], { size: 13.5 });
T(155, 648, hLabelsH1[1], { size: 13.5 });
T(155, 678, hLabelsH1[2], { size: 13.5 });
T(5, 695, "0", { size: 13.5, anchor: "middle" });
T(75, 708, "mPlum H1 signal", { size: 13.5, anchor: "middle" });

// ---------- panel i ----------
T(265, 498, "i", { size: 13 });
T(419, 498, "loaded with less antigen", { size: 13.5, anchor: "middle", italic: true });
const ix = d3.scaleBand().domain(iGroups).range([293, 563]);
const iy = d3.scaleLinear().domain([-0.42, 4.1]).range([682, 519]);
const GREEN = "#5aa97a";
L(293, iy(0), 563, iy(0), "#999", 1, "1.5,1.5");
function dodge(vals, yScale, r) {
  const placed = [], offs = [0, -7, 7, -14, 14];
  return vals.map(v => {
    const yy = yScale(v);
    for (const o of offs) {
      if (!placed.some(p => Math.abs(p.y - yy) < 2 * r && Math.abs(p.o - o) < 2 * r)) { placed.push({ y: yy, o }); return o; }
    }
    return 0;
  });
}
function iSeriesDraw(means, sds, pts, col, shift) {
  iGroups.forEach((g, k) => {
    const c = ix(g) + ix.bandwidth() / 2 + shift;
    svg.append("rect").attr("x", c - 11).attr("y", iy(Math.max(means[k], 0))).attr("width", 22)
      .attr("height", iy(0) - iy(Math.max(means[k], 0))).attr("fill", "none").attr("stroke", col).attr("stroke-width", 2);
    L(c, iy(means[k] - sds[k]), c, iy(means[k] + sds[k]), col, 1.6);
    L(c - 6, iy(means[k] + sds[k]), c + 6, iy(means[k] + sds[k]), col, 1.6);
    L(c - 6, iy(means[k] - sds[k]), c + 6, iy(means[k] - sds[k]), col, 1.6);
    L(c - 11, iy(means[k]), c + 11, iy(means[k]), col, 1.6);
    const offs = dodge(pts[k], iy, 4);
    pts[k].forEach((v, j) => svg.append("circle").attr("cx", c + offs[j]).attr("cy", iy(v)).attr("r", 4).attr("fill", col));
  });
}
iSeriesDraw(spMean, spSd, spPts, "#000", -11);
iSeriesDraw(h1Mean, h1Sd, h1Pts, GREEN, 11);
const iAx = svg.append("g").attr("transform", "translate(293,0)")
  .call(d3.axisLeft(iy).tickValues(iTicks).tickFormat(fmtInt).tickSize(4).tickSizeOuter(0));
styleAxis(iAx, 13.5, "#444");
L(293, 682, 563, 682, "#444", 1);
iGroups.forEach(g => {
  const c = ix(g) + ix.bandwidth() / 2;
  T(c, 696, g, { size: 13, anchor: "middle" });
});
T(ix("FDC") + ix.bandwidth() / 2, 710, "PFA fixed", { size: 13, anchor: "middle" });
T(277, 600, "% B cell binding", { size: 13.5, anchor: "middle", rot: -90 });
svg.append("circle").attr("cx", 315).attr("cy", 528).attr("r", 4).attr("fill", "#000");
svg.append("circle").attr("cx", 315).attr("cy", 543).attr("r", 4).attr("fill", GREEN);
T(320, 533, iSeries[0], { size: 13.5 });
T(320, 548, iSeries[1], { size: 13.5 });
const cH1 = ix("H1-IC") + ix.bandwidth() / 2, cMPL = ix("H1-IC+MPL") + ix.bandwidth() / 2;
L(cH1 - 14, 557, cH1 + 14, 557, "#777", 1.2);
T(cH1, 559, "∗∗∗", { size: 12, anchor: "middle", fill: "#444", ls: 2 });
L(cMPL - 14, 536, cMPL + 14, 536, "#777", 1.2);
T(cMPL, 538, "∗∗∗", { size: 12, anchor: "middle", fill: "#444", ls: 2 });
svg.append("path").attr("d", `M${cH1 + 11},547 V516 H${cMPL + 11} V522`).attr("fill", "none").attr("stroke", "#777").attr("stroke-width", 1.2);
T((cH1 + cMPL) / 2 + 11, 518, "∗∗", { size: 12, anchor: "middle", fill: "#444", ls: 2 });

// ---------- panel j ----------
T(578, 498, "j", { size: 13 });
T(686, 497, "MPL effect on B cells", { size: 10.5, anchor: "middle" });
const jx = d3.scaleBand().domain([0, 1, 2, 3]).range([632, 748]);
const jy = d3.scaleLinear().domain([0.895, 1.51]).range([635, 510]);
const jCol = ["#000", "#999", "#000", "#999"];
jVals.forEach((vs, k) => {
  const c = jx(k) + jx.bandwidth() / 2;
  L(c - 9, jy(jMed[k]), c + 9, jy(jMed[k]), jCol[k], 1.2);
  const offs = dodge(vs, jy, 3);
  vs.forEach((v, j) => svg.append("circle").attr("cx", c + offs[j]).attr("cy", jy(v)).attr("r", 3.2).attr("fill", jCol[k]));
});
const jAx = svg.append("g").attr("transform", "translate(628,0)")
  .call(d3.axisLeft(jy).tickValues([1, 1.5]).tickSize(3).tickSizeOuter(0).tickFormat(d => d === 1 ? "1" : "1.5"));
styleAxis(jAx, 9, "#444");
const jAxX = svg.append("g").attr("transform", "translate(0,635)")
  .call(d3.axisBottom(jx).tickSize(3).tickFormat(""));
jAxX.select(".domain").remove();
styleAxis(jAxX, 9, "#444");
L(628, 635, 752, 635, "#444", 1);
T(606, 572, "MFI (x10³)", { size: 11, anchor: "middle", rot: -90 });
const c2 = jx(2) + jx.bandwidth() / 2, c3 = jx(3) + jx.bandwidth() / 2;
L(c2 - 2, 531, c3, 531, "#222", 1);
T((c2 + c3) / 2, 527, "ns", { size: 9, anchor: "middle" });
const jr = d3.scaleBand().domain(jRows).range([647, 677]);
svg.append("rect").attr("x", 579).attr("y", jr("MPL")).attr("width", 173).attr("height", jr.bandwidth()).attr("fill", "#e3e3e3");
jRows.forEach(r => T(627, jr(r) + jr.bandwidth() / 2 + 3.5, r, { size: 9.5, anchor: "end" }));
jMatrix.forEach((row, k) => {
  const c = jx(k) + jx.bandwidth() / 2;
  const on = jRows.filter((r, i) => row[i]);
  if (on.length > 1) L(c, jr(on[0]) + jr.bandwidth() / 2, c, jr(on[on.length - 1]) + jr.bandwidth() / 2, "#000", 1.5);
  on.forEach(r => svg.append("circle").attr("cx", c).attr("cy", jr(r) + jr.bandwidth() / 2).attr("r", 3.3).attr("fill", "#000"));
});
</script>
</body></html>
